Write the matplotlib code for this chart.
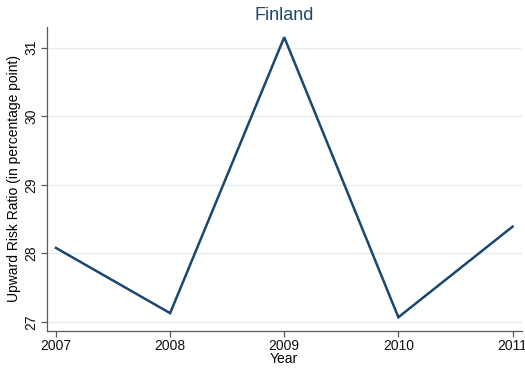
import matplotlib
matplotlib.use('Agg')
import matplotlib.pyplot as plt

plt.rcParams['font.family'] = ['Liberation Sans', 'DejaVu Sans']

years = [2007, 2008, 2009, 2010, 2011]
risk_ratio = [28.08, 27.13, 31.15, 27.07, 28.39]
y_ticks = [27, 28, 29, 30, 31]

navy = '#1a476f'
axis_grey = '#5a5a5a'

fig = plt.figure(figsize=(5.25, 3.69), dpi=100)
ax = fig.add_axes([0.0886, 0.103, 0.905, 0.824])

ax.plot(years, risk_ratio, color=navy, linewidth=1.8, solid_joinstyle='miter')

ax.set_xlim(2006.917, 2011.08)
ax.set_ylim(26.87, 31.3)
ax.set_xticks(years)
ax.set_yticks(y_ticks)
ax.set_yticklabels([str(t) for t in y_ticks], rotation=90, va='center')

ax.grid(axis='y', color='#e3ecf0', linewidth=0.9)
ax.set_axisbelow(True)
for side in ['top', 'right']:
    ax.spines[side].set_visible(False)
for side in ['left', 'bottom']:
    ax.spines[side].set_color(axis_grey)
    ax.spines[side].set_linewidth(0.9)
ax.tick_params(colors=axis_grey, labelcolor='#111111', labelsize=10, length=4, width=0.9)
ax.tick_params(axis='y', pad=2)
ax.tick_params(axis='x', pad=2)

ax.set_title('Finland', color=navy, fontsize=13, pad=5)
ax.set_xlabel('Year', fontsize=10, labelpad=-1)
ax.set_ylabel('Upward Risk Ratio (in percentage point)', fontsize=10, labelpad=2)

fig.savefig('out.png', dpi=100, facecolor='white')
